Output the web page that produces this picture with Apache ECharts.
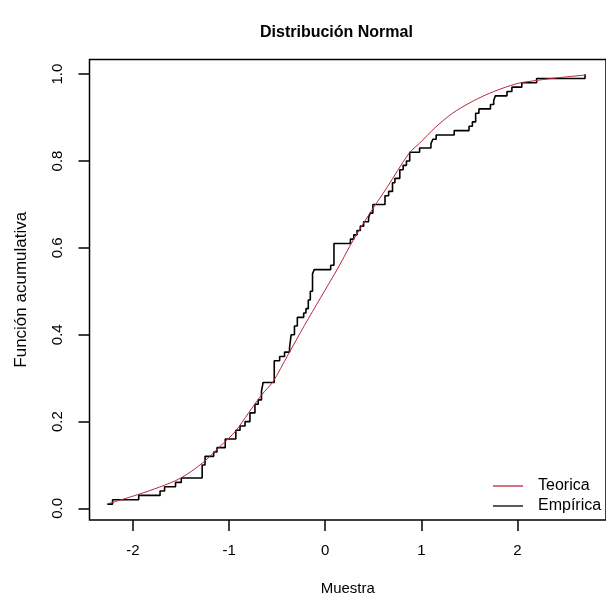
<!DOCTYPE html>
<html>
<head>
<meta charset="utf-8">
<script src="https://cdn.jsdelivr.net/npm/echarts@6/dist/echarts.min.js"></script>
<style>
html,body{margin:0;padding:0;background:#fff;}
#c{width:606px;height:601px;}
</style>
</head>
<body>
<div id="c"></div>
<script>
// Tick positions / labels
const xTicks = [-2, -1, 0, 1, 2];
const yTicks = [0, 0.2, 0.4, 0.6, 0.8, 1.0];
const yTickLabels = ['0.0', '0.2', '0.4', '0.6', '0.8', '1.0'];

// Empirical CDF: jump locations and level after each jump
const empX = [-2.267, -2.212, -1.94, -1.718, -1.671, -1.557, -1.497, -1.28, -1.25, -1.16, -1.126, -1.04, -0.93, -0.886, -0.834, -0.783, -0.731, -0.697, -0.663, -0.646, -0.53, -0.474, -0.423, -0.371, -0.354, -0.32, -0.29, -0.224, -0.2, -0.176, -0.155, -0.132, -0.114, 0.057, 0.091, 0.262, 0.297, 0.331, 0.365, 0.40, 0.451, 0.468, 0.496, 0.622, 0.66, 0.70, 0.725, 0.776, 0.811, 0.845, 0.879, 0.982, 1.10, 1.12, 1.154, 1.342, 1.496, 1.531, 1.565, 1.599, 1.719, 1.753, 1.77, 1.891, 1.942, 2.045, 2.199, 2.703];
const empY = [0.01, 0.02, 0.03, 0.04, 0.05, 0.06, 0.07, 0.10, 0.12, 0.13, 0.14, 0.16, 0.18, 0.19, 0.20, 0.22, 0.24, 0.25, 0.27, 0.29, 0.34, 0.35, 0.36, 0.37, 0.40, 0.42, 0.44, 0.45, 0.46, 0.48, 0.50, 0.54, 0.55, 0.56, 0.61, 0.62, 0.63, 0.64, 0.65, 0.66, 0.67, 0.68, 0.70, 0.72, 0.73, 0.75, 0.76, 0.78, 0.79, 0.80, 0.82, 0.83, 0.84, 0.85, 0.86, 0.87, 0.88, 0.89, 0.91, 0.92, 0.93, 0.94, 0.95, 0.96, 0.97, 0.98, 0.99, 1.00];

// Theoretical CDF
const teoX = [-2.257, -1.948, -1.726, -1.503, -1.28, -1.074, -0.937, -0.80, -0.663, -0.543, -0.389, -0.217, -0.046, 0.126, 0.297, 0.468, 0.64, 0.873, 0.982, 1.154, 1.325, 1.496, 1.668, 1.839, 2.01, 2.182, 2.353, 2.524, 2.713];
const teoY = [0.011, 0.032, 0.049, 0.070, 0.104, 0.147, 0.177, 0.219, 0.261, 0.292, 0.353, 0.421, 0.486, 0.551, 0.62, 0.681, 0.738, 0.818, 0.841, 0.879, 0.91, 0.933, 0.952, 0.967, 0.979, 0.985, 0.99, 0.994, 0.998];

const seriesNames = ['Teorica', 'Empírica'];
const lineColors = ['#b8283f', '#000000'];

const chart = echarts.init(document.getElementById('c'), null, {renderer: 'canvas'});
const font = 'Liberation Sans, Arial, sans-serif';

chart.setOption({
  animation: false,
  backgroundColor: '#fff',
  title: {
    text: 'Distribución Normal',
    left: 255, top: 20,
    textStyle: {fontFamily: font, fontWeight: 'bold', fontSize: 16, color: '#000'}
  },
  legend: {
    data: seriesNames,
    icon: 'rect',
    orient: 'vertical',
    left: 488, top: 473,
    itemWidth: 30, itemHeight: 1.3,
    itemGap: 4,
    itemStyle: {borderWidth: 0},
    textStyle: {fontFamily: font, fontSize: 16, color: '#000', padding: [0, 0, 0, 10]}
  },
  grid: {
    left: 89.5, top: 59.5, right: -6, bottom: 78.5,
    show: true, borderColor: '#000', borderWidth: 1.5, backgroundColor: 'transparent'
  },
  xAxis: {
    type: 'value', min: -2.452, max: 2.921,
    name: 'Muestra', nameLocation: 'middle', nameGap: 61,
    nameTextStyle: {fontFamily: font, fontSize: 15, color: '#000'},
    axisLine: {show: false, onZero: false},
    splitLine: {show: false},
    axisTick: {show: true, length: 11, customValues: xTicks, lineStyle: {color: '#000', width: 1.5}},
    axisLabel: {customValues: xTicks, margin: 23, fontFamily: font, fontSize: 15, color: '#000'}
  },
  yAxis: {
    type: 'value', min: -0.0266, max: 1.0337,
    name: 'Función acumulativa', nameLocation: 'middle', nameGap: 60,
    nameTextStyle: {fontFamily: font, fontSize: 17, color: '#000'},
    axisLine: {show: false, onZero: false},
    splitLine: {show: false},
    axisTick: {show: true, length: 11, customValues: yTicks, lineStyle: {color: '#000', width: 1.5}},
    axisLabel: {customValues: yTicks, margin: 24, rotate: 90, fontFamily: font, fontSize: 15, color: '#000',
      formatter: v => yTickLabels[yTicks.findIndex(t => Math.abs(t - v) < 1e-9)]}
  },
  series: [
    {
      name: seriesNames[1], type: 'line', step: 'end', symbol: 'none',
      data: empX.map((x, i) => [x, empY[i]]),
      lineStyle: {color: lineColors[1], width: 1.6}, itemStyle: {color: lineColors[1]}, z: 2
    },
    {
      name: seriesNames[0], type: 'line', smooth: 0.3, symbol: 'none',
      data: teoX.map((x, i) => [x, teoY[i]]),
      lineStyle: {color: lineColors[0], width: 1}, itemStyle: {color: lineColors[0]}, z: 3
    }
  ]
});
</script>
</body>
</html>
